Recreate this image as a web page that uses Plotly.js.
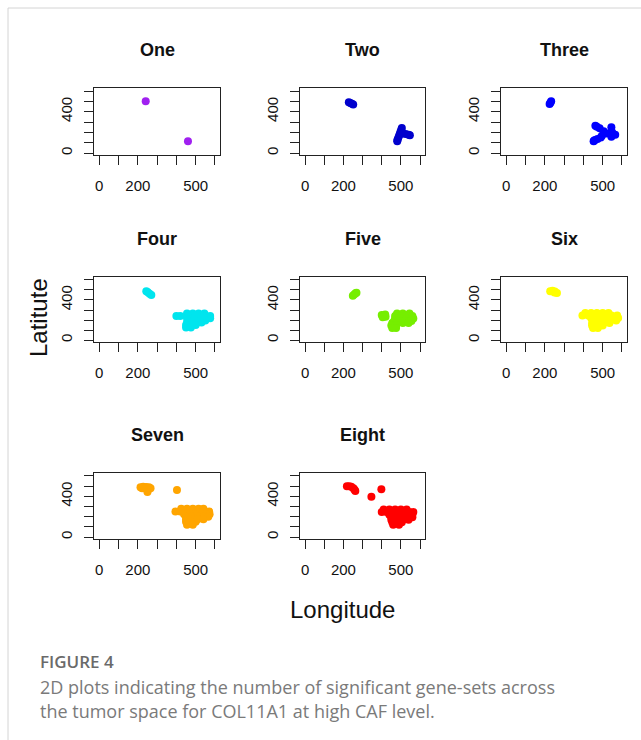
<!DOCTYPE html>
<html>
<head>
<meta charset="utf-8">
<script src="https://cdn.plot.ly/plotly-3.0.1.min.js"></script>
<style>
html,body{margin:0;padding:0;background:#fff;overflow:hidden;}
#chart{width:641px;height:740px;}
</style>
</head>
<body>
<div id="chart"></div>
<script>
// ---- data (longitude / latitude of spots per panel) ----
const panelNames = ["One","Two","Three","Four","Five","Six","Seven","Eight"];
const panelColors = ["#A020F0","#0000CD","#0000FF","#00E5EE","#76EE00","#FFFF00","#FFA500","#FF0000"];

const lonOne = [241, 460];
const latOne = [500, 113];

const lonTwo = [228,236,244,251, 505,502,498,494,490,486,482,481,510,525,540,547];
const latTwo = [490,484,477,470, 242,225,205,185,165,145,125,115,190,185,178,172];

const lonThree = [225,229,233, 462,470,484,505,496,490,473,453,455,460, 545,549,545,565,522];
const latThree = [474,487,500, 265,255,239,210,168,150,136,113,120,125, 249,200,158,177,190];

const lonFour = [244,252,261,270, 455,485,515,545, 400,420,460,490,520,550,575, 455,485,515,545,575, 460,490,520,550, 455,480,505,530, 450,475,500, 450,475];
const latFour = [488,477,463,450, 265,265,265,265, 240,240,240,240,240,240,240, 217,217,217,217,217, 195,195,195,195, 175,175,175,175, 150,150,150, 125,125];

const lonFive = [249,256,263,268, 400,420,405,418, 480,510,545, 470,500,530,560, 470,500,530,565, 465,495,525,555, 455,480,510,540, 450,475, 455,475];
const latFive = [443,455,466,472, 250,232,228,255, 265,265,265, 240,240,240,240, 215,215,215,215, 190,190,190,190, 170,170,170,170, 145,145, 120,120];

const lonSix = [228,240,252,263,250, 410,440,470,500,530, 395,425,455,485,515,545,575, 440,470,500,530,560,580, 450,480,510,540,570, 445,475,505,535, 445,470,500, 450,475];
const latSix = [488,492,485,469,475, 270,270,270,270,270, 245,245,245,245,245,245,245, 220,220,220,220,220,220, 195,195,195,195,195, 170,170,170,170, 145,145,145, 120,120];

const lonSeven = [214,228,243,258,266,240,252,250,222, 403, 425,455,485,515,540, 395,420,450,480,510,540,570, 440,470,500,530,560,572, 450,480,510,540,565, 450,480,510,540, 450,475,500, 455,485];
const latSeven = [490,494,492,488,480,478,460,443,480, 462, 278,278,278,278,278, 250,250,250,250,250,250,250, 225,225,225,225,225,225, 200,200,200,200,200, 175,175,175,175, 150,150,150, 122,122];

const lonEight = [218,230,241,252,258,262, 346,398, 410,440,470,500,530, 400,425,455,485,515,545,565, 440,470,500,530,560, 450,480,510,540,560, 450,480,510,540, 455,480,505, 460,490];
const latEight = [500,498,493,480,465,452, 395,469, 270,270,270,270,270, 245,245,245,245,245,245,245, 220,220,220,220,220, 195,195,195,195,195, 170,170,170,170, 145,145,145, 122,122];

const xTickVals = [0,100,200,300,400,500,600];
const xTickText = ["0","","200","","","500",""];
const yTickVals = [0,100,200,300,400,500,600];
const yTickText = ["0","","","","400","",""];

const xAxisTitle = "Longitude";
const yAxisTitle = "Latitute";
const figLabel = "FIGURE 4";
const captionLines = ["2D plots indicating the number of significant gene-sets across",
                      "the tumor space for COL11A1 at high CAF level."];

// ---- layout geometry ----
const W = 641, H = 740;
const lons = [lonOne,lonTwo,lonThree,lonFour,lonFive,lonSix,lonSeven,lonEight];
const lats = [latOne,latTwo,latThree,latFour,latFive,latSix,latSeven,latEight];
const colBoxes = [[94,220],[300,425],[501,627]];
const rowBoxes = [[88,155],[277,342],[473,539]];
const FONT = "Liberation Sans, Arial, Helvetica, sans-serif";
const CAPFONT = "Open Sans, sans-serif";

const traces = [];
const layout = {
  width: W, height: H,
  margin: {l:0,r:0,t:0,b:0,pad:0},
  paper_bgcolor: "#fff", plot_bgcolor: "#fff",
  showlegend: false,
  font: {family: FONT, color: "#000"},
  annotations: [], shapes: []
};

for (let i = 0; i < 8; i++) {
  const r = Math.floor(i/3), c = i%3;
  const sx = i === 0 ? "" : String(i+1);
  traces.push({
    type: "scatter", mode: "markers",
    x: lons[i], y: lats[i],
    xaxis: "x"+sx, yaxis: "y"+sx,
    marker: {color: panelColors[i], size: 8, line: {width: 0}},
    hoverinfo: "skip"
  });
  const cb = colBoxes[c], rb = rowBoxes[r];
  const common = {
    showgrid: false, zeroline: false, showline: true, mirror: true,
    linecolor: "#222", linewidth: 1,
    ticks: "outside", ticklen: 9, tickwidth: 1, tickcolor: "#222",
    tickmode: "array", fixedrange: true,
    tickfont: {family: FONT, size: 15, color: "#111"}
  };
  layout["xaxis"+sx] = Object.assign({}, common, {
    domain: [cb[0]/W, cb[1]/W], range: [-27, 626],
    tickvals: xTickVals, ticktext: xTickText,
    anchor: "y"+sx, ticklabelstandoff: 8
  });
  layout["yaxis"+sx] = Object.assign({}, common, {
    domain: [1 - rb[1]/H, 1 - rb[0]/H], range: [-19, 629],
    tickvals: yTickVals, ticktext: yTickText, tickangle: -90,
    anchor: "x"+sx, ticklabelstandoff: 6
  });
  layout.annotations.push({
    xref: "paper", yref: "paper",
    x: (cb[0]+cb[1])/2/W, y: 1 - (rb[0]-38)/H,
    xanchor: "center", yanchor: "middle", showarrow: false,
    text: "<b>"+panelNames[i]+"</b>",
    font: {family: FONT, size: 18, color: "#111"}
  });
}

layout.annotations.push({
  xref: "paper", yref: "paper", x: 342/W, y: 1 - 609/H,
  xanchor: "center", yanchor: "middle", showarrow: false,
  text: xAxisTitle, font: {family: FONT, size: 24, color: "#111"}
});
layout.annotations.push({
  xref: "paper", yref: "paper", x: 38/W, y: 1 - 318/H,
  xanchor: "center", yanchor: "middle", showarrow: false, textangle: -90,
  text: yAxisTitle, font: {family: FONT, size: 24, color: "#111"}
});
layout.annotations.push({
  xref: "paper", yref: "paper", x: 38/W, y: 1 - 661/H,
  xanchor: "left", yanchor: "middle", showarrow: false,
  text: figLabel, font: {family: CAPFONT, size: 17, weight: 600, color: "#6a6a6a"}
});
captionLines.forEach((t, k) => {
  layout.annotations.push({
    xref: "paper", yref: "paper", x: 38/W, y: 1 - (687 + 23.5*k)/H,
    xanchor: "left", yanchor: "middle", showarrow: false,
    text: t, font: {family: CAPFONT, size: 18, color: "#7a7a7a"}
  });
});

layout.shapes.push({type: "line", xref: "paper", yref: "paper",
  x0: 8/W, x1: 8/W, y0: 0, y1: 1 - 8/H, line: {color: "#d4d4d4", width: 1}});
layout.shapes.push({type: "line", xref: "paper", yref: "paper",
  x0: 8/W, x1: 1, y0: 1 - 8/H, y1: 1 - 8/H, line: {color: "#d4d4d4", width: 1}});

Plotly.newPlot("chart", traces, layout, {staticPlot: true, displayModeBar: false});
</script>
</body>
</html>
